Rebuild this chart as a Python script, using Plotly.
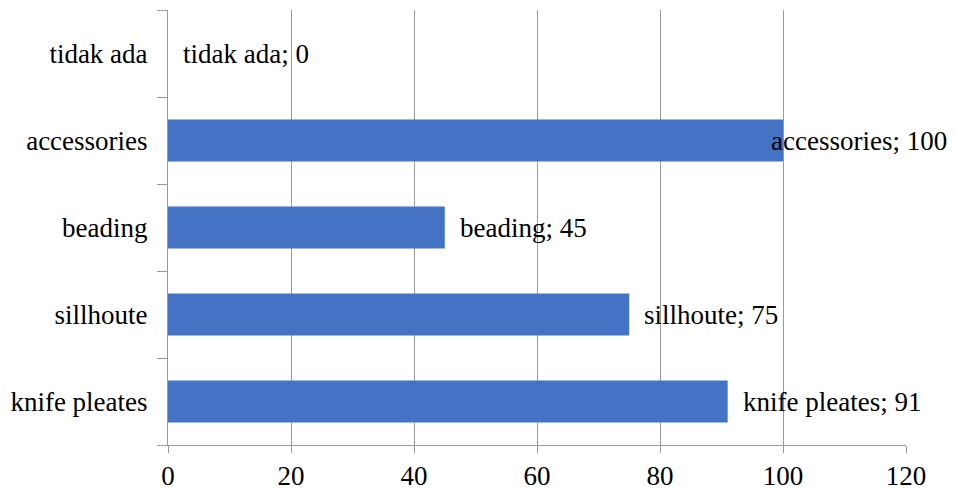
import plotly.graph_objects as go

# Categories listed bottom-to-top (Plotly draws the first category at the bottom)
categories = ["knife pleates", "sillhoute", "beading", "accessories", "tidak ada"]
values = [91, 75, 45, 100, 0]
x_ticks = [0, 20, 40, 60, 80, 100, 120]

X_MAX = 120
FONT = "Liberation Serif, Times New Roman, serif"
GRID = "#9a9a9a"
BAR = "#4472C4"
SIZE = 27

fig = go.Figure()
fig.add_trace(go.Bar(
    y=categories,
    x=values,
    orientation="h",
    marker=dict(color=BAR, line=dict(width=0)),
    hoverinfo="skip",
))

# Data labels "category; value" placed just past the bar end;
# a label that would run off the chart is pulled back to end near the chart edge.
for cat, v in zip(categories, values):
    text = f"{cat}; {v}"
    if v + 20 >= X_MAX:
        fig.add_annotation(x=X_MAX, y=cat, text=text, showarrow=False,
                           xanchor="right", yanchor="middle", xshift=43,
                           font=dict(family=FONT, size=SIZE, color="#000000"))
    else:
        fig.add_annotation(x=v, y=cat, text=text, showarrow=False,
                           xanchor="left", yanchor="middle", xshift=13,
                           font=dict(family=FONT, size=SIZE, color="#000000"))

fig.update_layout(
    width=955,
    height=491,
    margin=dict(l=168, r=49, t=10, b=46, autoexpand=False),
    paper_bgcolor="white",
    plot_bgcolor="white",
    showlegend=False,
    bargap=0.52,
    font=dict(family=FONT, size=SIZE, color="#000000"),
    xaxis=dict(
        range=[0, X_MAX],
        tickmode="array",
        tickvals=x_ticks,
        ticktext=[str(t) for t in x_ticks],
        showgrid=True,
        gridcolor=GRID,
        gridwidth=1,
        zeroline=False,
        showline=True,
        linecolor=GRID,
        linewidth=1,
        ticks="outside",
        ticklen=7,
        tickcolor=GRID,
        automargin=False,
        tickfont=dict(family=FONT, size=SIZE, color="#000000"),
    ),
    yaxis=dict(
        type="category",
        categoryorder="array",
        categoryarray=categories,
        range=[-0.5, 4.5],
        showgrid=False,
        zeroline=False,
        showline=True,
        linecolor=GRID,
        linewidth=1,
        ticks="outside",
        ticklen=10,
        tickcolor=GRID,
        tickson="boundaries",
        ticklabelstandoff=14,
        automargin=False,
        tickfont=dict(family=FONT, size=SIZE, color="#000000"),
    ),
)

fig.write_html("out.html")
